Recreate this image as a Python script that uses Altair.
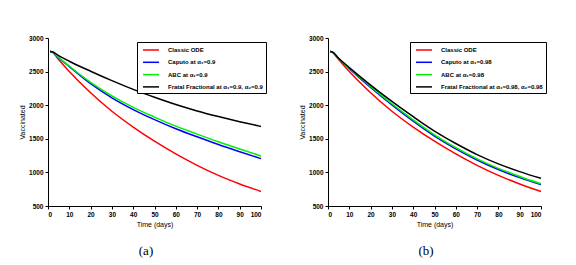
import altair as alt
import pandas as pd

t = [1, 2, 5, 10, 20, 30, 40, 50, 60, 70, 80, 90, 100]

# Panel (a)
ode = [2800, 2790, 2680, 2500, 2185, 1910, 1675, 1465, 1275, 1105, 955, 828, 717]
caputo_a = [2800, 2794, 2705, 2575, 2320, 2110, 1935, 1785, 1650, 1530, 1415, 1308, 1205]
abc_a = [2800, 2795, 2708, 2580, 2340, 2138, 1968, 1823, 1688, 1570, 1455, 1348, 1245]
ff_a = [2800, 2797, 2738, 2654, 2505, 2365, 2235, 2118, 2010, 1915, 1832, 1755, 1684]

# Panel (b)
caputo_b = [2800, 2792, 2690, 2545, 2265, 2005, 1762, 1540, 1350, 1185, 1043, 922, 818]
abc_b = [2800, 2792, 2692, 2550, 2280, 2022, 1782, 1560, 1368, 1202, 1060, 940, 830]
ff_b = [2800, 2794, 2698, 2560, 2300, 2058, 1830, 1615, 1430, 1265, 1127, 1012, 912]

names_a = ["Classic ODE", "Caputo at α₁=0.9", "ABC at α₁=0.9",
           "Fratal Fractional at α₁=0.9, α₂=0.9"]
names_b = ["Classic ODE", "Caputo at α₁=0.98", "ABC at α₁=0.98",
           "Fratal Fractional at α₁=0.98, α₂=0.98"]
colors = ["#ff0000", "#0000ff", "#00ee00", "#000000"]

x_ticks = list(range(0, 101, 10))
y_ticks = list(range(500, 3001, 500))


def frame(series, names):
    rows = []
    for k, (vals, nm) in enumerate(zip(series, names)):
        for ti, v in zip(t, vals):
            rows.append({"t": ti, "v": v, "series": nm, "order": k})
    return pd.DataFrame(rows)


def panel(df, names, caption, lx):
    base = alt.Chart(df)
    lines = base.mark_line(strokeWidth=1.5, interpolate="monotone").encode(
        x=alt.X("t:Q", scale=alt.Scale(domain=[0, 100], nice=False),
                axis=alt.Axis(values=x_ticks, title="Time (days)", format="d")),
        y=alt.Y("v:Q", scale=alt.Scale(domain=[500, 3000], nice=False),
                axis=alt.Axis(values=y_ticks, title="Vaccinated", format="d")),
        color=alt.Color("series:N", sort=names,
                        scale=alt.Scale(domain=names, range=colors),
                        legend=alt.Legend(
                            title=None, orient="none", legendX=lx, legendY=4,
                            strokeColor="black", padding=3, fillColor="white",
                            symbolType="M-2,0H2", symbolSize=64,
                            symbolStrokeWidth=1.5, symbolOffset=6,
                            labelOffset=12, labelFontSize=6,
                            labelFontWeight="bold", labelFont="Liberation Sans",
                            labelLimit=300, rowPadding=4.3)),
        detail="order:Q",
    )
    cap = alt.Chart(pd.DataFrame({"c": [caption]})).mark_text(
        font="Liberation Serif", fontSize=13, baseline="middle", align="center"
    ).encode(text="c:N", x=alt.value(98), y=alt.value(213))
    return alt.layer(lines, cap).properties(width=213, height=168)


left = panel(frame([ode, caputo_a, abc_a, ff_a], names_a), names_a, "(a)", 89)
right = panel(frame([ode, caputo_b, abc_b, ff_b], names_b), names_b, "(b)", 82)

chart = alt.hconcat(left, right, spacing=67, bounds="flush").resolve_scale(
    color="independent"
).resolve_legend(color="independent").properties(
    padding={"left": 10, "top": 27, "right": 5, "bottom": 5}
).configure_view(stroke=None).configure_axis(
    domainColor="black", tickColor="black", labelColor="black",
    labelFont="Liberation Sans", labelFontSize=6.5, labelFontWeight="bold",
    titleFont="Liberation Sans", titleFontSize=7, titleFontWeight="normal",
    titleColor="black", grid=False, tickSize=3, labelPadding=2, titlePadding=3,
    domainWidth=1, tickWidth=1,
)

chart.save("out.html", embed_options={"renderer": "svg", "actions": False})
